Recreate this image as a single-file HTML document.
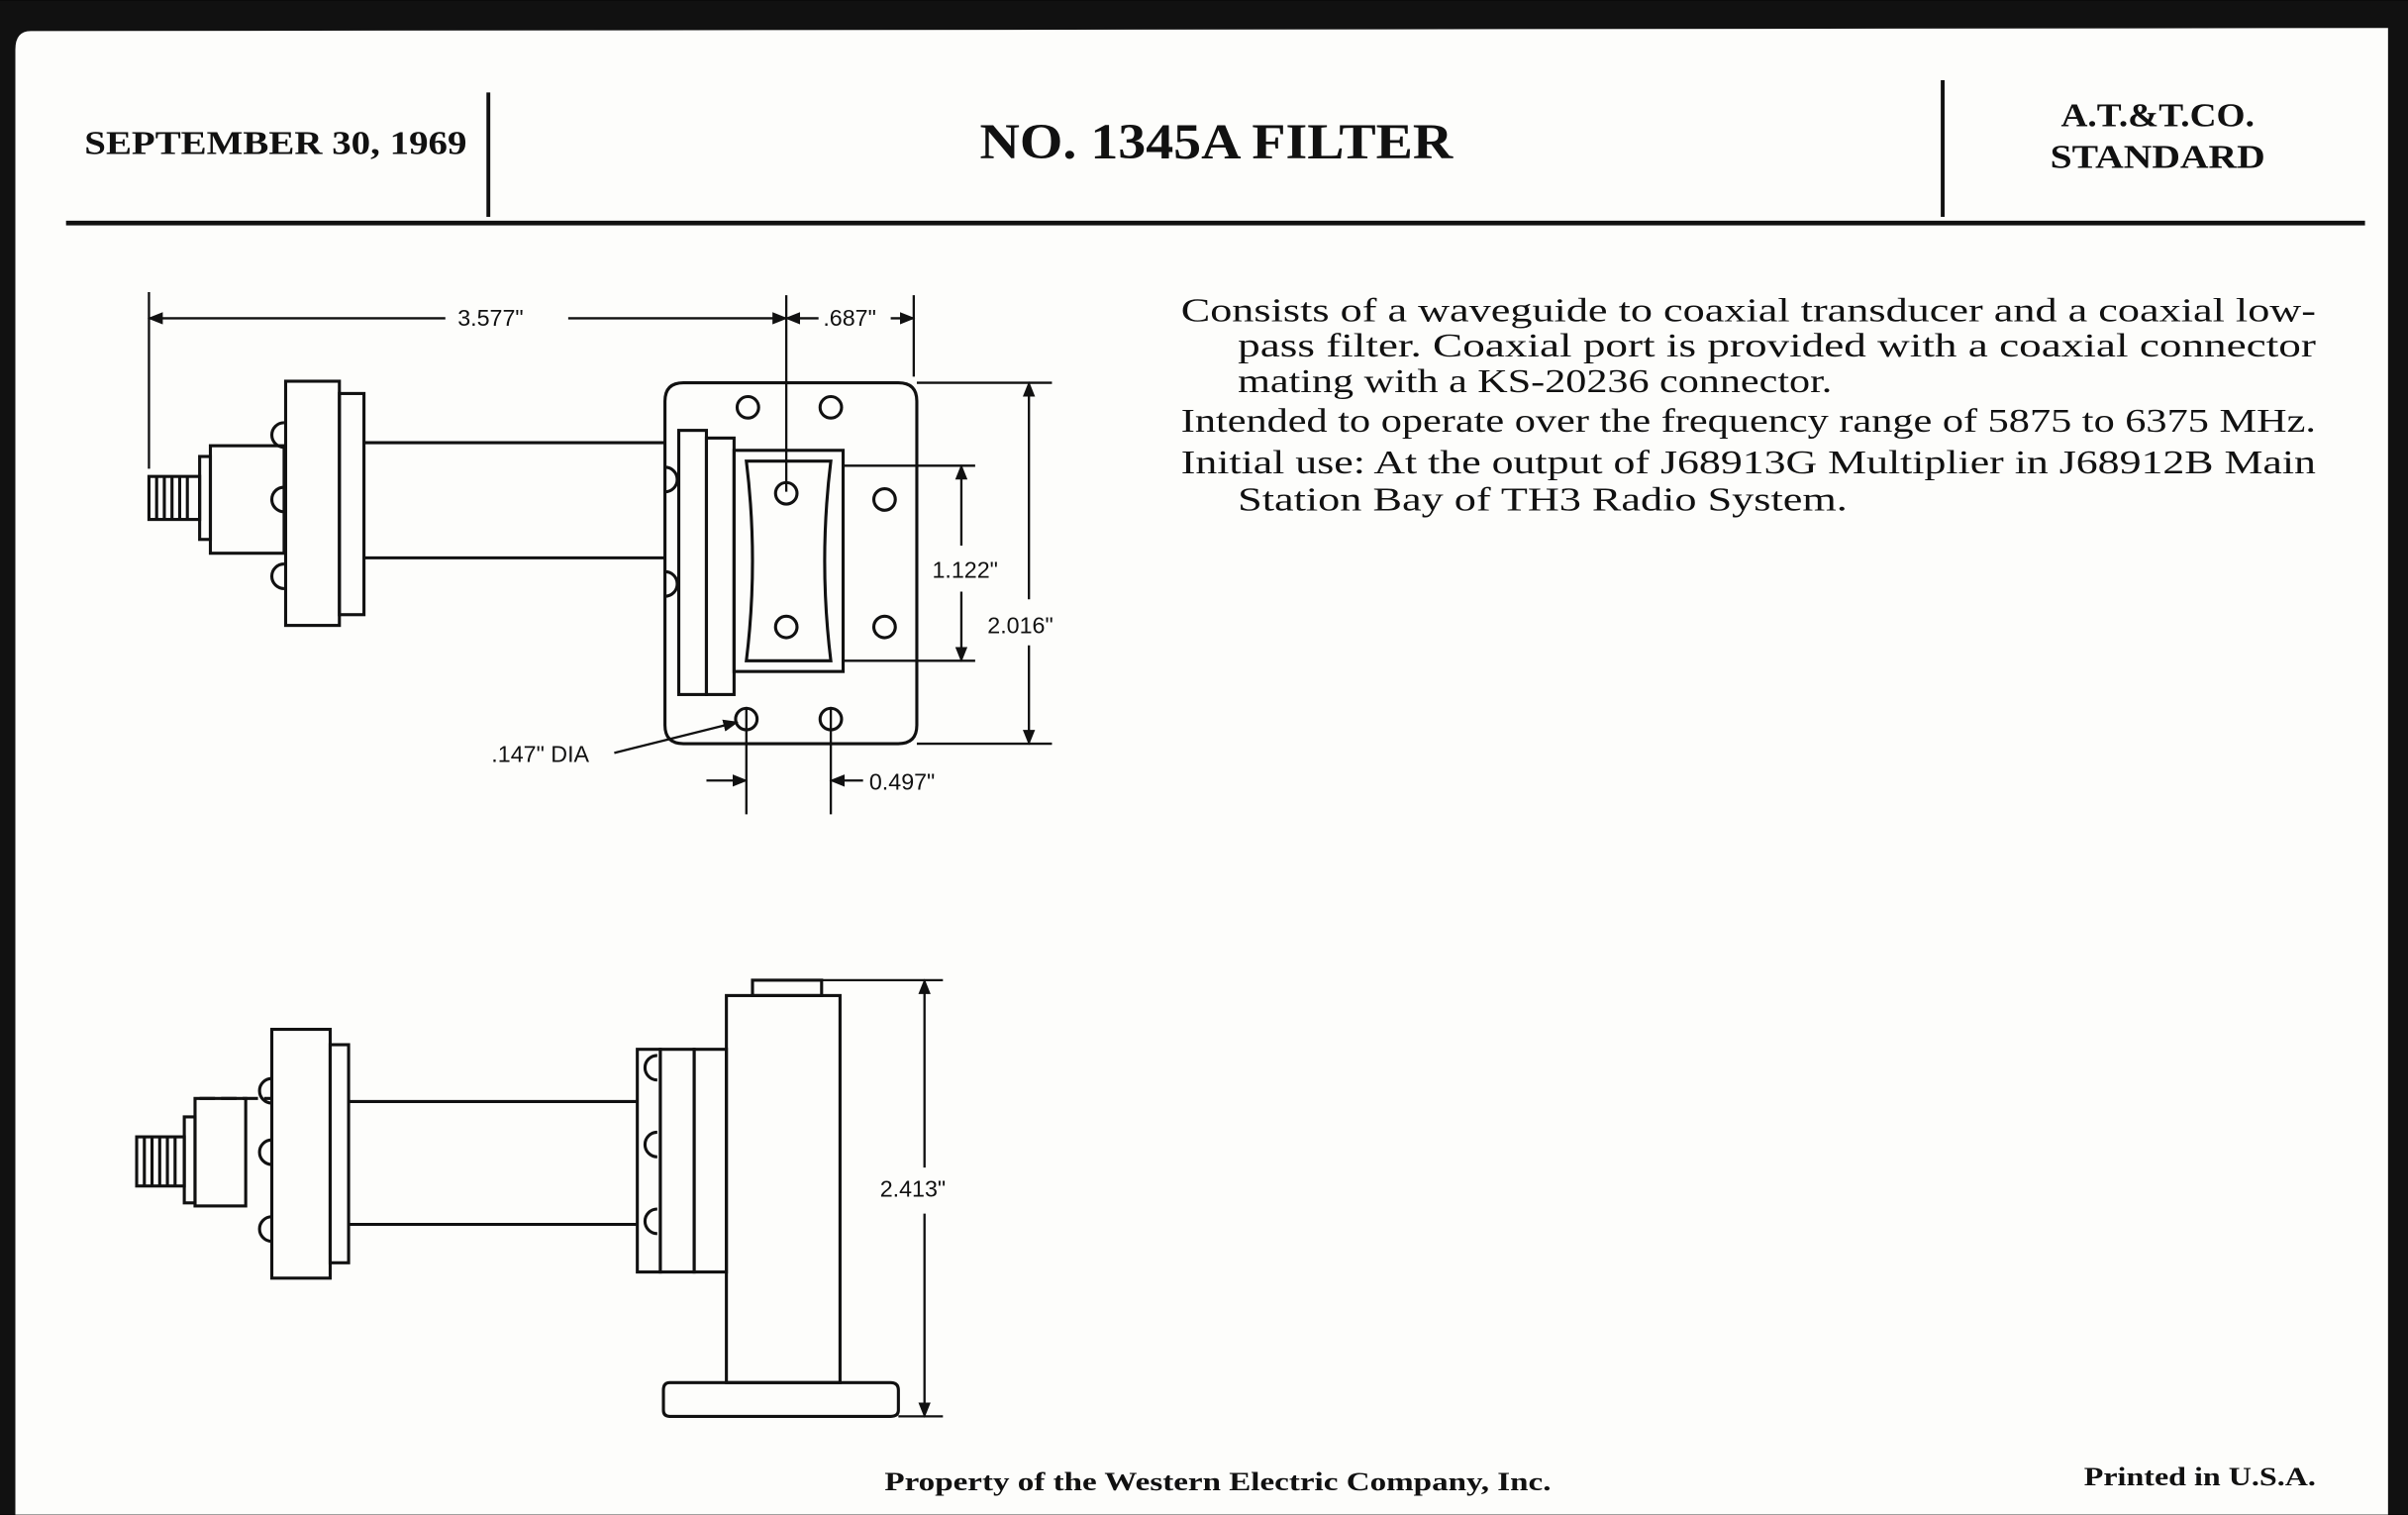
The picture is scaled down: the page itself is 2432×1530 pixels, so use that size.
<!DOCTYPE html>
<html><head><meta charset="utf-8"><style>
html,body{margin:0;padding:0;background:#000;}
svg{display:block;}
.s{font-family:"Liberation Serif",serif;font-weight:bold;fill:#111;}
.b{font-family:"Liberation Serif",serif;fill:#111;font-size:22px;}
.d{font-family:"Liberation Sans",sans-serif;fill:#111;font-size:15px;}
</style></head><body>
<svg width="2432" height="1530" viewBox="0 0 1568 986" xmlns="http://www.w3.org/2000/svg">
<defs><marker id="a" markerWidth="10" markerHeight="8" refX="9" refY="4" orient="auto-start-reverse" markerUnits="userSpaceOnUse"><path d="M0,0 L10,4 L0,8 z" fill="#111"/></marker></defs>
<rect x="0" y="0" width="1568" height="986" fill="#111"/>
<path d="M20,20 L1555,18 L1555,986 L10,986 L10,32 Q10,20 20,20 z" fill="#fdfdfb"/>
<g stroke="#111" fill="none">
<line x1="43" y1="145" x2="1540" y2="145" stroke-width="3"/>
<line x1="318" y1="60" x2="318" y2="141" stroke-width="2.5"/>
<line x1="1265" y1="52" x2="1265" y2="141" stroke-width="2.5"/>
</g>
<text class="s" x="55" y="100" font-size="22" textLength="249" lengthAdjust="spacingAndGlyphs">SEPTEMBER 30, 1969</text>
<text class="s" x="638" y="103" font-size="33" textLength="308" lengthAdjust="spacingAndGlyphs">NO. 1345A FILTER</text>
<text class="s" x="1342" y="82" font-size="22" textLength="126" lengthAdjust="spacingAndGlyphs">A.T.&amp;T.CO.</text>
<text class="s" x="1335" y="109" font-size="22" textLength="140" lengthAdjust="spacingAndGlyphs">STANDARD</text>
<text class="b" x="769" y="209" textLength="739" lengthAdjust="spacingAndGlyphs">Consists of a waveguide to coaxial transducer and a coaxial low-</text>
<text class="b" x="806" y="232" textLength="702" lengthAdjust="spacingAndGlyphs">pass filter. Coaxial port is provided with a coaxial connector</text>
<text class="b" x="806" y="255" textLength="387" lengthAdjust="spacingAndGlyphs">mating with a KS-20236 connector.</text>
<text class="b" x="769" y="281" textLength="739" lengthAdjust="spacingAndGlyphs">Intended to operate over the frequency range of 5875 to 6375 MHz.</text>
<text class="b" x="769" y="308" textLength="739" lengthAdjust="spacingAndGlyphs">Initial use: At the output of J68913G Multiplier in J68912B Main</text>
<text class="b" x="806" y="332" textLength="397" lengthAdjust="spacingAndGlyphs">Station Bay of TH3 Radio System.</text>
<text class="s" x="576" y="970" font-size="17" textLength="434" lengthAdjust="spacingAndGlyphs">Property of the Western Electric Company, Inc.</text>
<text class="s" x="1357" y="967" font-size="17" textLength="151" lengthAdjust="spacingAndGlyphs">Printed in U.S.A.</text>

<g stroke="#111" stroke-width="2" fill="none">
<rect x="97" y="310" width="33" height="28"/>
<path d="M102,310v28M107,310v28M112,310v28M117,310v28M122,310v28"/>
<rect x="130" y="297" width="7" height="54"/>
<rect x="137" y="290" width="48" height="70"/>
<rect x="186" y="248" width="35" height="159"/>
<rect x="221" y="256" width="16" height="144"/>
<path d="M185,275a8,8 0 0,0 0,16M185,317a8,8 0 0,0 0,16M185,367a8,8 0 0,0 0,16"/>
<line x1="237" y1="288" x2="433" y2="288"/><line x1="237" y1="363" x2="433" y2="363"/>
<path d="M445,249 H585 Q597,249 597,261 V472 Q597,484 585,484 H445 Q433,484 433,472 V261 Q433,249 445,249 z"/>
<rect x="442" y="280" width="18" height="172"/>
<rect x="460" y="285" width="18" height="167"/>
<rect x="478" y="293" width="71" height="144"/>
<path d="M486,300 H541 Q533,365 541,430 H486 Q494,365 486,300 z"/>
<path d="M433,304a8,8 0 0,1 0,16M433,372a8,8 0 0,1 0,16"/>
<circle cx="487" cy="265" r="7"/><circle cx="541" cy="265" r="7"/>
<circle cx="512" cy="321" r="7"/><circle cx="576" cy="325" r="7"/>
<circle cx="512" cy="408" r="7"/><circle cx="576" cy="408" r="7"/>
<circle cx="486" cy="468" r="7"/><circle cx="541" cy="468" r="7"/>
</g>
<g stroke="#111" stroke-width="1.5" fill="none">
<line x1="97" y1="190" x2="97" y2="305"/>
<line x1="97" y1="207" x2="290" y2="207" marker-start="url(#a)"/>
<line x1="370" y1="207" x2="512" y2="207" marker-end="url(#a)"/>
<line x1="512" y1="192" x2="512" y2="320"/>
<line x1="595" y1="192" x2="595" y2="245"/>
<line x1="512" y1="207" x2="533" y2="207" marker-start="url(#a)"/>
<line x1="580" y1="207" x2="595" y2="207" marker-end="url(#a)"/>
<line x1="597" y1="249" x2="685" y2="249"/><line x1="597" y1="484" x2="685" y2="484"/>
<line x1="670" y1="249" x2="670" y2="390" marker-start="url(#a)"/>
<line x1="670" y1="420" x2="670" y2="484" marker-end="url(#a)"/>
<line x1="549" y1="303" x2="635" y2="303"/><line x1="549" y1="430" x2="635" y2="430"/>
<line x1="626" y1="303" x2="626" y2="355" marker-start="url(#a)"/>
<line x1="626" y1="385" x2="626" y2="430" marker-end="url(#a)"/>
<line x1="400" y1="490" x2="480" y2="470" marker-end="url(#a)"/>
<line x1="486" y1="460" x2="486" y2="530"/><line x1="541" y1="460" x2="541" y2="530"/>
<line x1="460" y1="508" x2="486" y2="508" marker-end="url(#a)"/>
<line x1="562" y1="508" x2="541" y2="508" marker-end="url(#a)"/>
</g>
<text class="d" x="298" y="212">3.577"</text>
<text class="d" x="536" y="212">.687"</text>
<text class="d" x="643" y="412">2.016"</text>
<text class="d" x="607" y="376">1.122"</text>
<text class="d" x="320" y="496">.147" DIA</text>
<text class="d" x="566" y="514">0.497"</text>

<g stroke="#111" stroke-width="2" fill="none">
<rect x="89" y="740" width="31" height="32"/>
<path d="M94,740v32M99,740v32M104,740v32M109,740v32M114,740v32"/>
<rect x="120" y="727" width="7" height="56"/>
<rect x="127" y="715" width="33" height="70"/>
<line x1="130" y1="715" x2="177" y2="715" stroke-dasharray="10,4"/>
<rect x="177" y="670" width="38" height="162"/>
<rect x="215" y="680" width="12" height="142"/>
<path d="M177,702a8,8 0 0,0 0,16M177,742a8,8 0 0,0 0,16M177,792a8,8 0 0,0 0,16"/>
<line x1="227" y1="717" x2="415" y2="717"/><line x1="227" y1="797" x2="415" y2="797"/>
<path d="M428,687a8,8 0 0,0 0,16M428,737a8,8 0 0,0 0,16M428,787a8,8 0 0,0 0,16"/>
<rect x="415" y="683" width="15" height="145"/>
<rect x="430" y="683" width="22" height="145"/>
<rect x="452" y="683" width="21" height="145"/>
<rect x="473" y="648" width="74" height="252"/>
<rect x="490" y="638" width="45" height="10"/>
<path d="M436,900 H580 Q585,900 585,905 V918 Q585,922 580,922 H436 Q432,922 432,918 V905 Q432,900 436,900 z"/>
</g>
<g stroke="#111" stroke-width="1.5" fill="none">
<line x1="535" y1="638" x2="614" y2="638"/><line x1="585" y1="922" x2="614" y2="922"/>
<line x1="602" y1="638" x2="602" y2="760" marker-start="url(#a)"/>
<line x1="602" y1="790" x2="602" y2="922" marker-end="url(#a)"/>
</g>
<text class="d" x="573" y="779">2.413"</text>
</svg>
</body></html>
